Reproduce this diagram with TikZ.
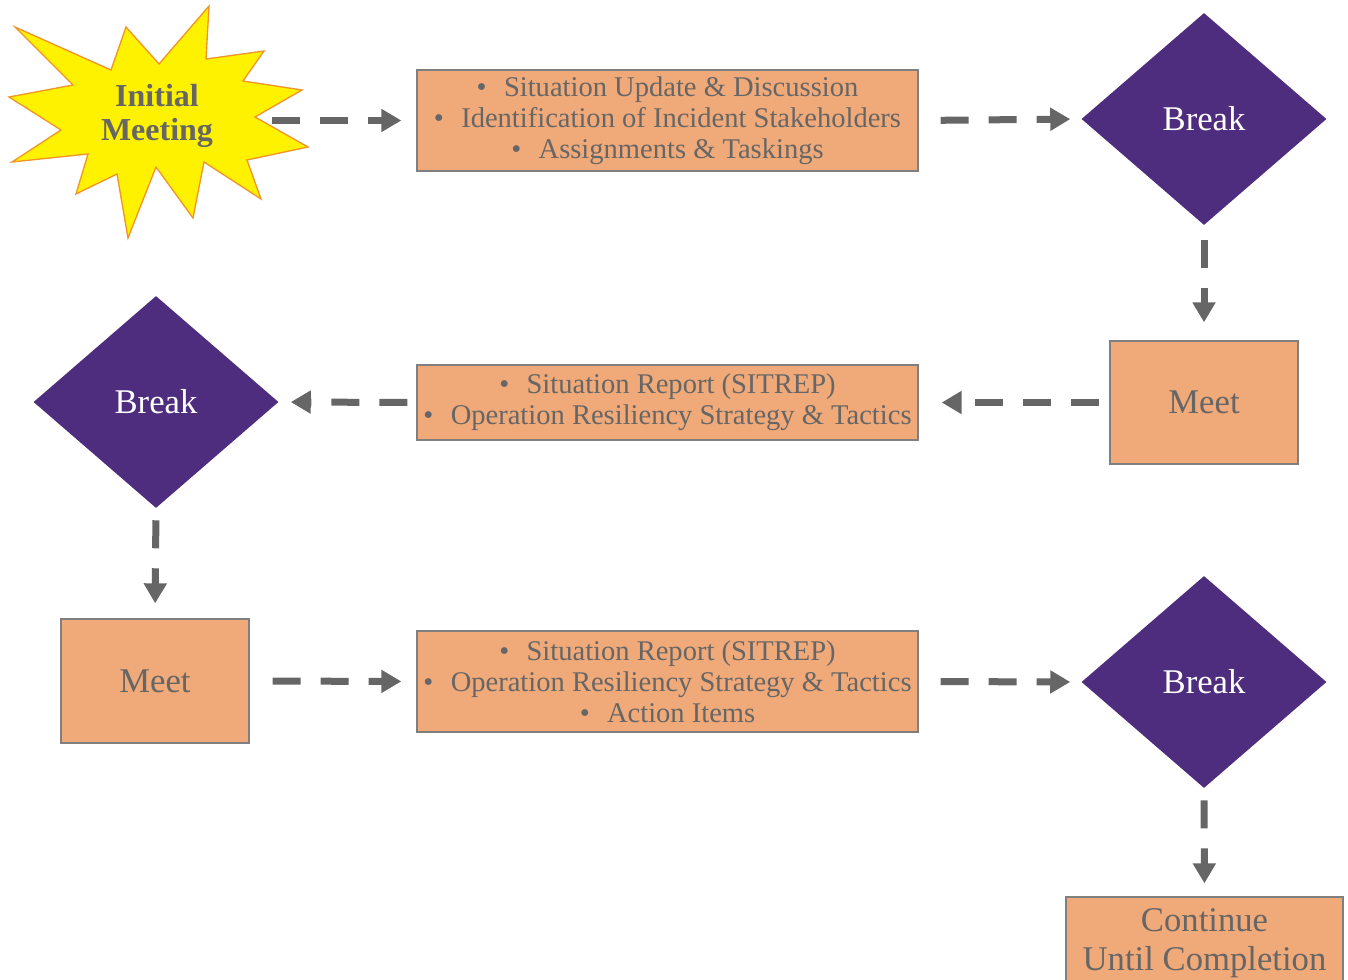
\documentclass[tikz,border=0pt]{standalone}
\usepackage{fontspec}
\setmainfont{Liberation Serif}
\usetikzlibrary{shapes.geometric,arrows.meta}
\definecolor{boxfill}{RGB}{240,169,120}
\definecolor{boxline}{RGB}{127,127,127}
\definecolor{txtgray}{RGB}{102,102,102}
\definecolor{breakpurple}{RGB}{79,45,126}
\definecolor{burstline}{RGB}{240,150,40}
\newcommand{\itembul}{\textbullet\hspace{13pt}}
\begin{document}
\begin{tikzpicture}[x=0.75pt,y=-0.75pt,
	task/.style={draw=boxline,line width=1pt,fill=boxfill,text=txtgray,align=center,inner sep=0pt,font=\fontsize{21.4}{23.25}\selectfont},
	meetbox/.style={task,font=\fontsize{26}{29}\selectfont},
	pause/.style={diamond,fill=breakpurple,text=white,inner sep=0pt,minimum width=183.75pt,minimum height=159pt,font=\fontsize{26}{30}\selectfont},
	flow/.style={draw=txtgray,line width=5.25pt,dash pattern=on 21pt off 15pt,-{Triangle[length=15pt,width=16.5pt]}}]
	\useasboundingbox (0,0) rectangle (1348,980);
	% starburst
	\filldraw[fill=yellow,draw=burstline,line width=1pt] (15,27)--(111,70)--(126,27)--(159,64)--(209,6)--(206,59)--(264,51)--(243,81)--(302,90)--(255,117)--(308,147)--(247,160)--(261,199)--(204,162)--(193,218)--(156,167)--(128,238)--(117,174)--(76,194)--(88,154)--(12,162)--(61,130)--(9,97)--(73,85)--cycle;
	\coordinate (burst) at (157,120.5);
	\node[text=txtgray,align=center,font=\fontsize{24}{26}\bfseries\selectfont] (init) at (157,116) {Initial\\Meeting};
	% first row
	\node[task,minimum width=375.75pt,minimum height=75.75pt] (sit1) at (667.5,120.5) {\itembul Situation Update \& Discussion\\\itembul Identification of Incident Stakeholders\\\itembul Assignments \& Taskings};
	\node[pause] (brk1) at (1204,119) {Break};
	% second row
	\node[meetbox,minimum width=141pt,minimum height=92.25pt] (meet1) at (1204,402.5) {Meet};
	\node[task,minimum width=375.75pt,minimum height=56.25pt] (sit2) at (667.5,402.5) {\itembul Situation Report (SITREP)\\\itembul Operation Resiliency Strategy \& Tactics};
	\node[pause] (brk2) at (156,402) {Break};
	% third row
	\node[meetbox,minimum width=141pt,minimum height=93pt] (meet2) at (155,681) {Meet};
	\node[task,minimum width=375.75pt,minimum height=75.75pt] (sit3) at (667.5,681.5) {\itembul Situation Report (SITREP)\\\itembul Operation Resiliency Strategy \& Tactics\\\itembul Action Items};
	\node[pause] (brk3) at (1204,682) {Break};
	\node[meetbox,minimum width=207.75pt,minimum height=66pt,text depth=2pt] (cont) at (1204.5,941) {Continue\\Until Completion};
	% connectors
	\draw[flow,shorten <=86.25pt,shorten >=11.25pt] (burst)--(sit1.west);
	\draw[flow,shorten <=16.5pt,shorten >=8.25pt] (sit1.east)--(brk1.west);
	\draw[flow,shorten <=11.25pt,shorten >=13.5pt] (brk1.south)--(meet1.north);
	\draw[flow,shorten <=7.5pt,shorten >=17.25pt] (meet1.west)--(sit2.east);
	\draw[flow,shorten <=6.75pt,shorten >=9pt] (sit2.west)--(brk2.east);
	\draw[flow,shorten <=9pt,shorten >=11.25pt] (brk2.south)--(meet2.north);
	\draw[flow,shorten <=17.25pt,shorten >=11.25pt] (meet2.east)--(sit3.west);
	\draw[flow,shorten <=16.5pt,shorten >=8.25pt] (sit3.east)--(brk3.west);
	\draw[flow,shorten <=9pt,shorten >=9.75pt] (brk3.south)--(cont.north);
\end{tikzpicture}
\end{document}
